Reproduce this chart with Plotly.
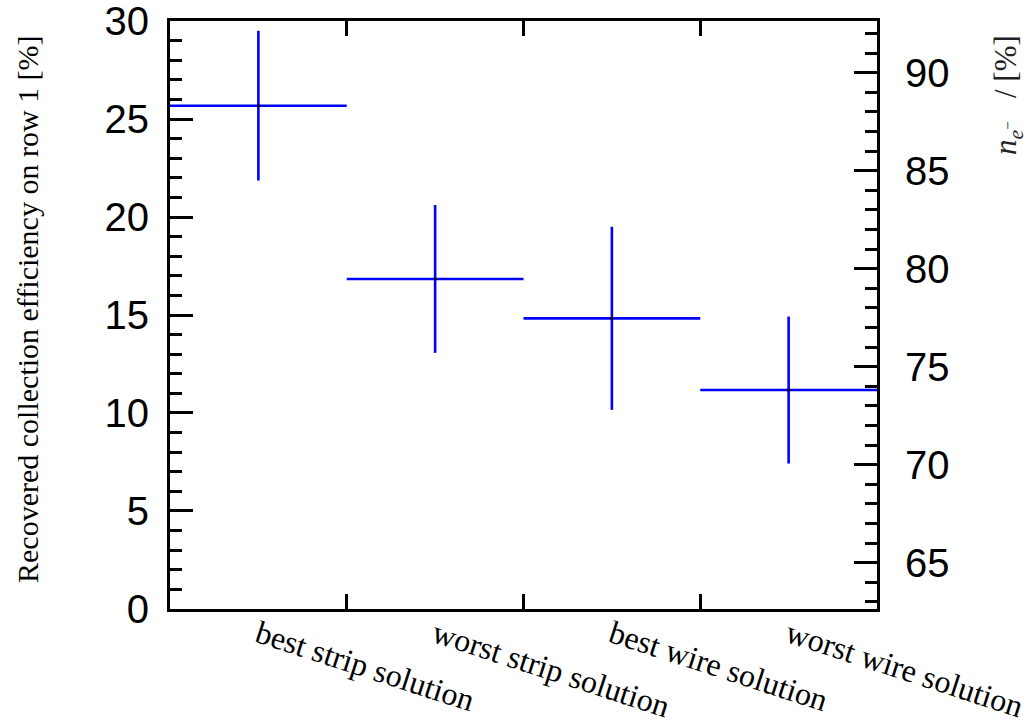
import plotly.graph_objects as go

categories = ["best strip solution", "worst strip solution", "best wire solution", "worst wire solution"]
efficiency = [25.68, 16.84, 14.83, 11.17]
efficiency_err = [3.82, 3.77, 4.67, 3.75]
bin_half_width = [0.5, 0.5, 0.5, 0.5]

left_range = [-0.001, 30.001]
right_range = [62.639, 92.641]

bin_centers = [i + 0.5 for i in range(len(categories))]
bin_edges = [i for i in range(1, len(categories))]

fig = go.Figure()
fig.add_trace(go.Scatter(
    x=bin_centers, y=efficiency, mode="markers",
    marker=dict(color="black", size=3),
    error_x=dict(type="data", symmetric=True, array=bin_half_width, color="#0000ff", thickness=2.6, width=0),
    error_y=dict(type="data", symmetric=True, array=efficiency_err, color="#0000ff", thickness=2.6, width=0),
    showlegend=False,
))
fig.add_trace(go.Scatter(x=[], y=[], xaxis="x2", yaxis="y2", showlegend=False))

tickfont = dict(family="Liberation Sans, Arial, sans-serif", size=40, color="black")
serif = "Liberation Serif, Times New Roman, serif"

fig.update_layout(
    width=1032, height=726,
    margin=dict(l=170, r=155, t=21, b=117),
    paper_bgcolor="white", plot_bgcolor="white",
    xaxis=dict(
        range=[0, len(categories)], tickvals=bin_edges, showticklabels=False,
        ticks="inside", ticklen=15, tickwidth=2.5, tickcolor="black",
        showline=True, linewidth=3, linecolor="black", mirror="ticks",
        showgrid=False, zeroline=False, automargin=False,
    ),
    xaxis2=dict(
        range=[0, len(categories)], overlaying="x", side="bottom", anchor="y",
        tickvals=bin_centers, ticktext=categories, ticks="",
        showline=False, showgrid=False, zeroline=False, automargin=False,
        tickangle=18, ticklabelstandoff=0, ticklabeloverflow="allow",
        tickfont=dict(family=serif, size=32, color="black"),
    ),
    yaxis=dict(
        range=left_range, tickvals=[0, 5, 10, 15, 20, 25, 30],
        ticks="inside", ticklen=23, tickwidth=2.5, tickcolor="black",
        minor=dict(ticks="inside", ticklen=12, dtick=1, tickwidth=2.5, tickcolor="black", showgrid=False),
        showline=True, linewidth=3, linecolor="black", mirror=False,
        showgrid=False, zeroline=False, tickfont=tickfont, automargin=False,
        ticklabelstandoff=10, ticklabeloverflow="allow",
    ),
    yaxis2=dict(
        range=right_range, tickvals=[65, 70, 75, 80, 85, 90], overlaying="y", side="right", anchor="x",
        ticks="inside", ticklen=23, tickwidth=2.5, tickcolor="black",
        minor=dict(ticks="inside", ticklen=12, dtick=1, tickwidth=2.5, tickcolor="black", showgrid=False),
        showline=True, linewidth=3, linecolor="black",
        showgrid=False, zeroline=False, tickfont=tickfont, automargin=False,
        ticklabelstandoff=17, ticklabeloverflow="allow",
    ),
    annotations=[
        dict(text="Recovered collection efficiency on row 1 [%]", textangle=-90,
             xref="paper", yref="paper", x=(27 - 170) / 707, y=(609 - 33) / 588,
             xanchor="center", yanchor="top", showarrow=False,
             font=dict(family=serif, size=30, color="black")),
        dict(text="<i>n</i><sub><i>e</i><sup>−</sup></sub>   / [%]", textangle=-90,
             xref="paper", yref="paper", x=(1008 - 170) / 707, y=(609 - 33) / 588,
             xanchor="center", yanchor="top", showarrow=False,
             font=dict(family=serif, size=31, color="#222")),
    ],
)

fig.write_html("out.html")
